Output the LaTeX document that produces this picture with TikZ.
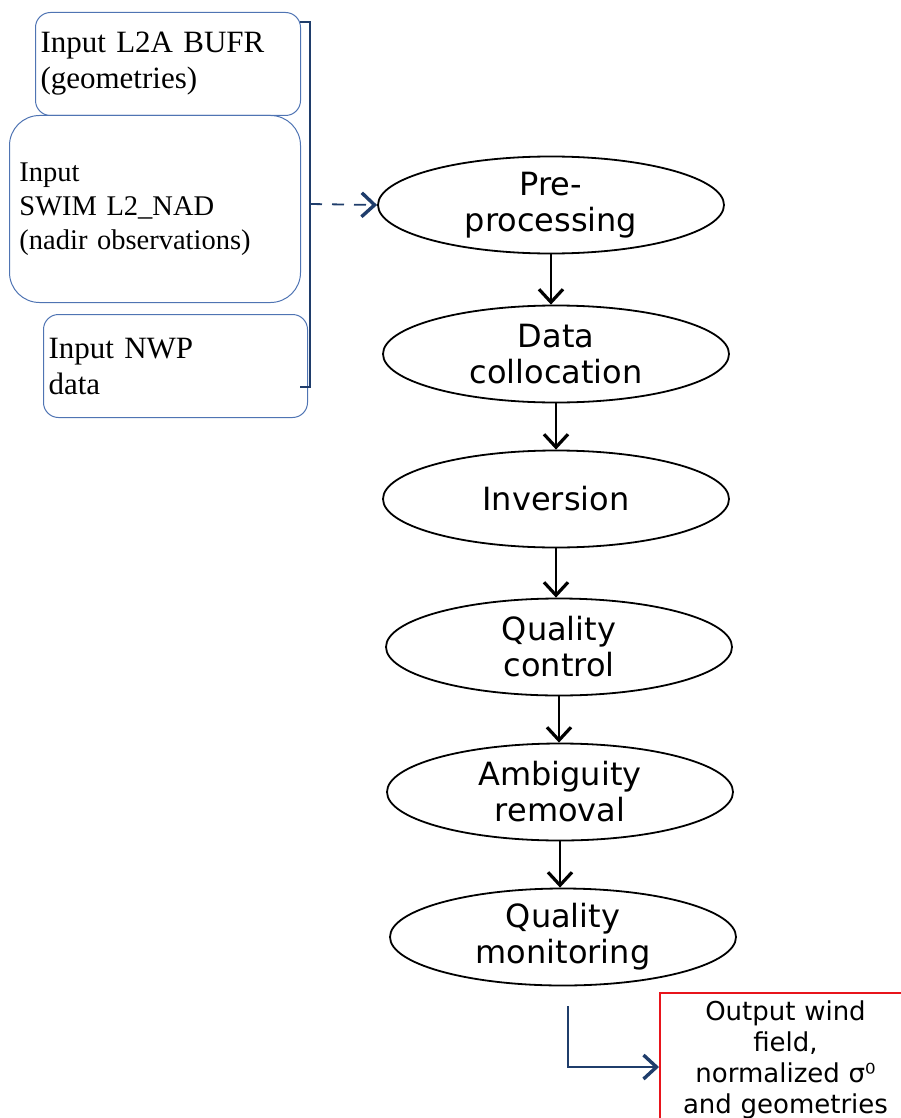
\documentclass[tikz,border=0pt]{standalone}
\usepackage{fontspec}
\setmainfont{Liberation Serif}
\newfontfamily\flowfont{DejaVu Sans}
\usetikzlibrary{arrows.meta, positioning, calc, shapes.geometric}
\definecolor{navy}{HTML}{1F3D6B}
\definecolor{inedge}{HTML}{4F74B3}
\definecolor{outedge}{HTML}{E8141B}

\begin{document}
\begin{tikzpicture}[x=1pt, y=-1pt,
    inbox/.style={draw=inedge, line width=1pt, anchor=north west, align=left,
      inner xsep=5pt, inner ysep=0pt, font=\fontsize{31}{36}\selectfont},
    stage/.style={draw, ellipse, line width=1.8pt, inner sep=0pt,
      minimum width=346pt, minimum height=97pt, align=center,
      font=\flowfont\fontsize{32}{36}\selectfont},
    flow/.style={line width=1.4pt, -{Straight Barb[length=13pt, width=24pt, line width=3.2pt]}},
    link/.style={navy, line width=1.8pt, -{Straight Barb[length=13pt, width=24pt, line width=3.4pt]}}]
    \useasboundingbox (0,0) rectangle (901,1118);
    % input boxes
    \node[inbox, rounded corners=15pt, minimum width=265pt, minimum height=103pt,
      text width=255pt] (bufr) at (35,12) {Input L2A BUFR\\(geometries)};
    \node[inbox, rounded corners=30pt, minimum width=291pt, minimum height=187pt,
      inner xsep=10pt, text width=271pt, font=\fontsize{28.5}{34}\selectfont] (swim) at (9,115)
      {Input\\SWIM L2\_NAD\\(nadir observations)};
    \node[inbox, rounded corners=15pt, minimum width=264pt, minimum height=103pt,
      text width=254pt] (nwp) at (43,314) {Input NWP\\data};
    % processing chain
    \node[stage] (pre)  at (551,205) {Pre-\\processing};
    \node[stage] (coll) at (556,354) {Data\\collocation};
    \node[stage] (inv)  at (556,499) {Inversion};
    \node[stage] (qc)   at (559,647) {Quality\\control};
    \node[stage] (amb)  at (560,792) {Ambiguity\\removal};
    \node[stage] (mon)  at (563,937) {Quality\\monitoring};
    % output box
    \node[draw=outedge, line width=2pt, anchor=north west, align=center,
      minimum width=251pt, text width=240pt, inner ysep=8pt,
      font=\flowfont\fontsize{26}{31}\selectfont] (out) at (659,992)
      {Output wind\\field,\\normalized σ⁰\\and geometries\\[30pt]};
    % bracket round the inputs
    \coordinate (btop) at (300,22);
    \coordinate (bbot) at (300,387);
    \coordinate (bmid) at (310,204);
    \draw[navy, line width=1.8pt] (btop) -- ++(10,0) -- ++(0,365) -- (bbot);
    \draw[navy, line width=1.8pt, dash pattern=on 12pt off 10pt,
      -{Straight Barb[length=13pt, width=24pt, line width=3.4pt]}] (bmid) -- (pre.west);
    % arrows between stages
    \foreach \a/\b in {pre/coll, coll/inv, inv/qc, qc/amb, amb/mon}{
      \draw[flow] (\a.south) -- (\a.south |- \b.north);
    }
    \coordinate (outstart) at (568,1006);
    \coordinate (outin) at ($(out.north west)+(0,75)$);
    \draw[link] (outstart) |- (outin);
  \end{tikzpicture}
\end{document}
